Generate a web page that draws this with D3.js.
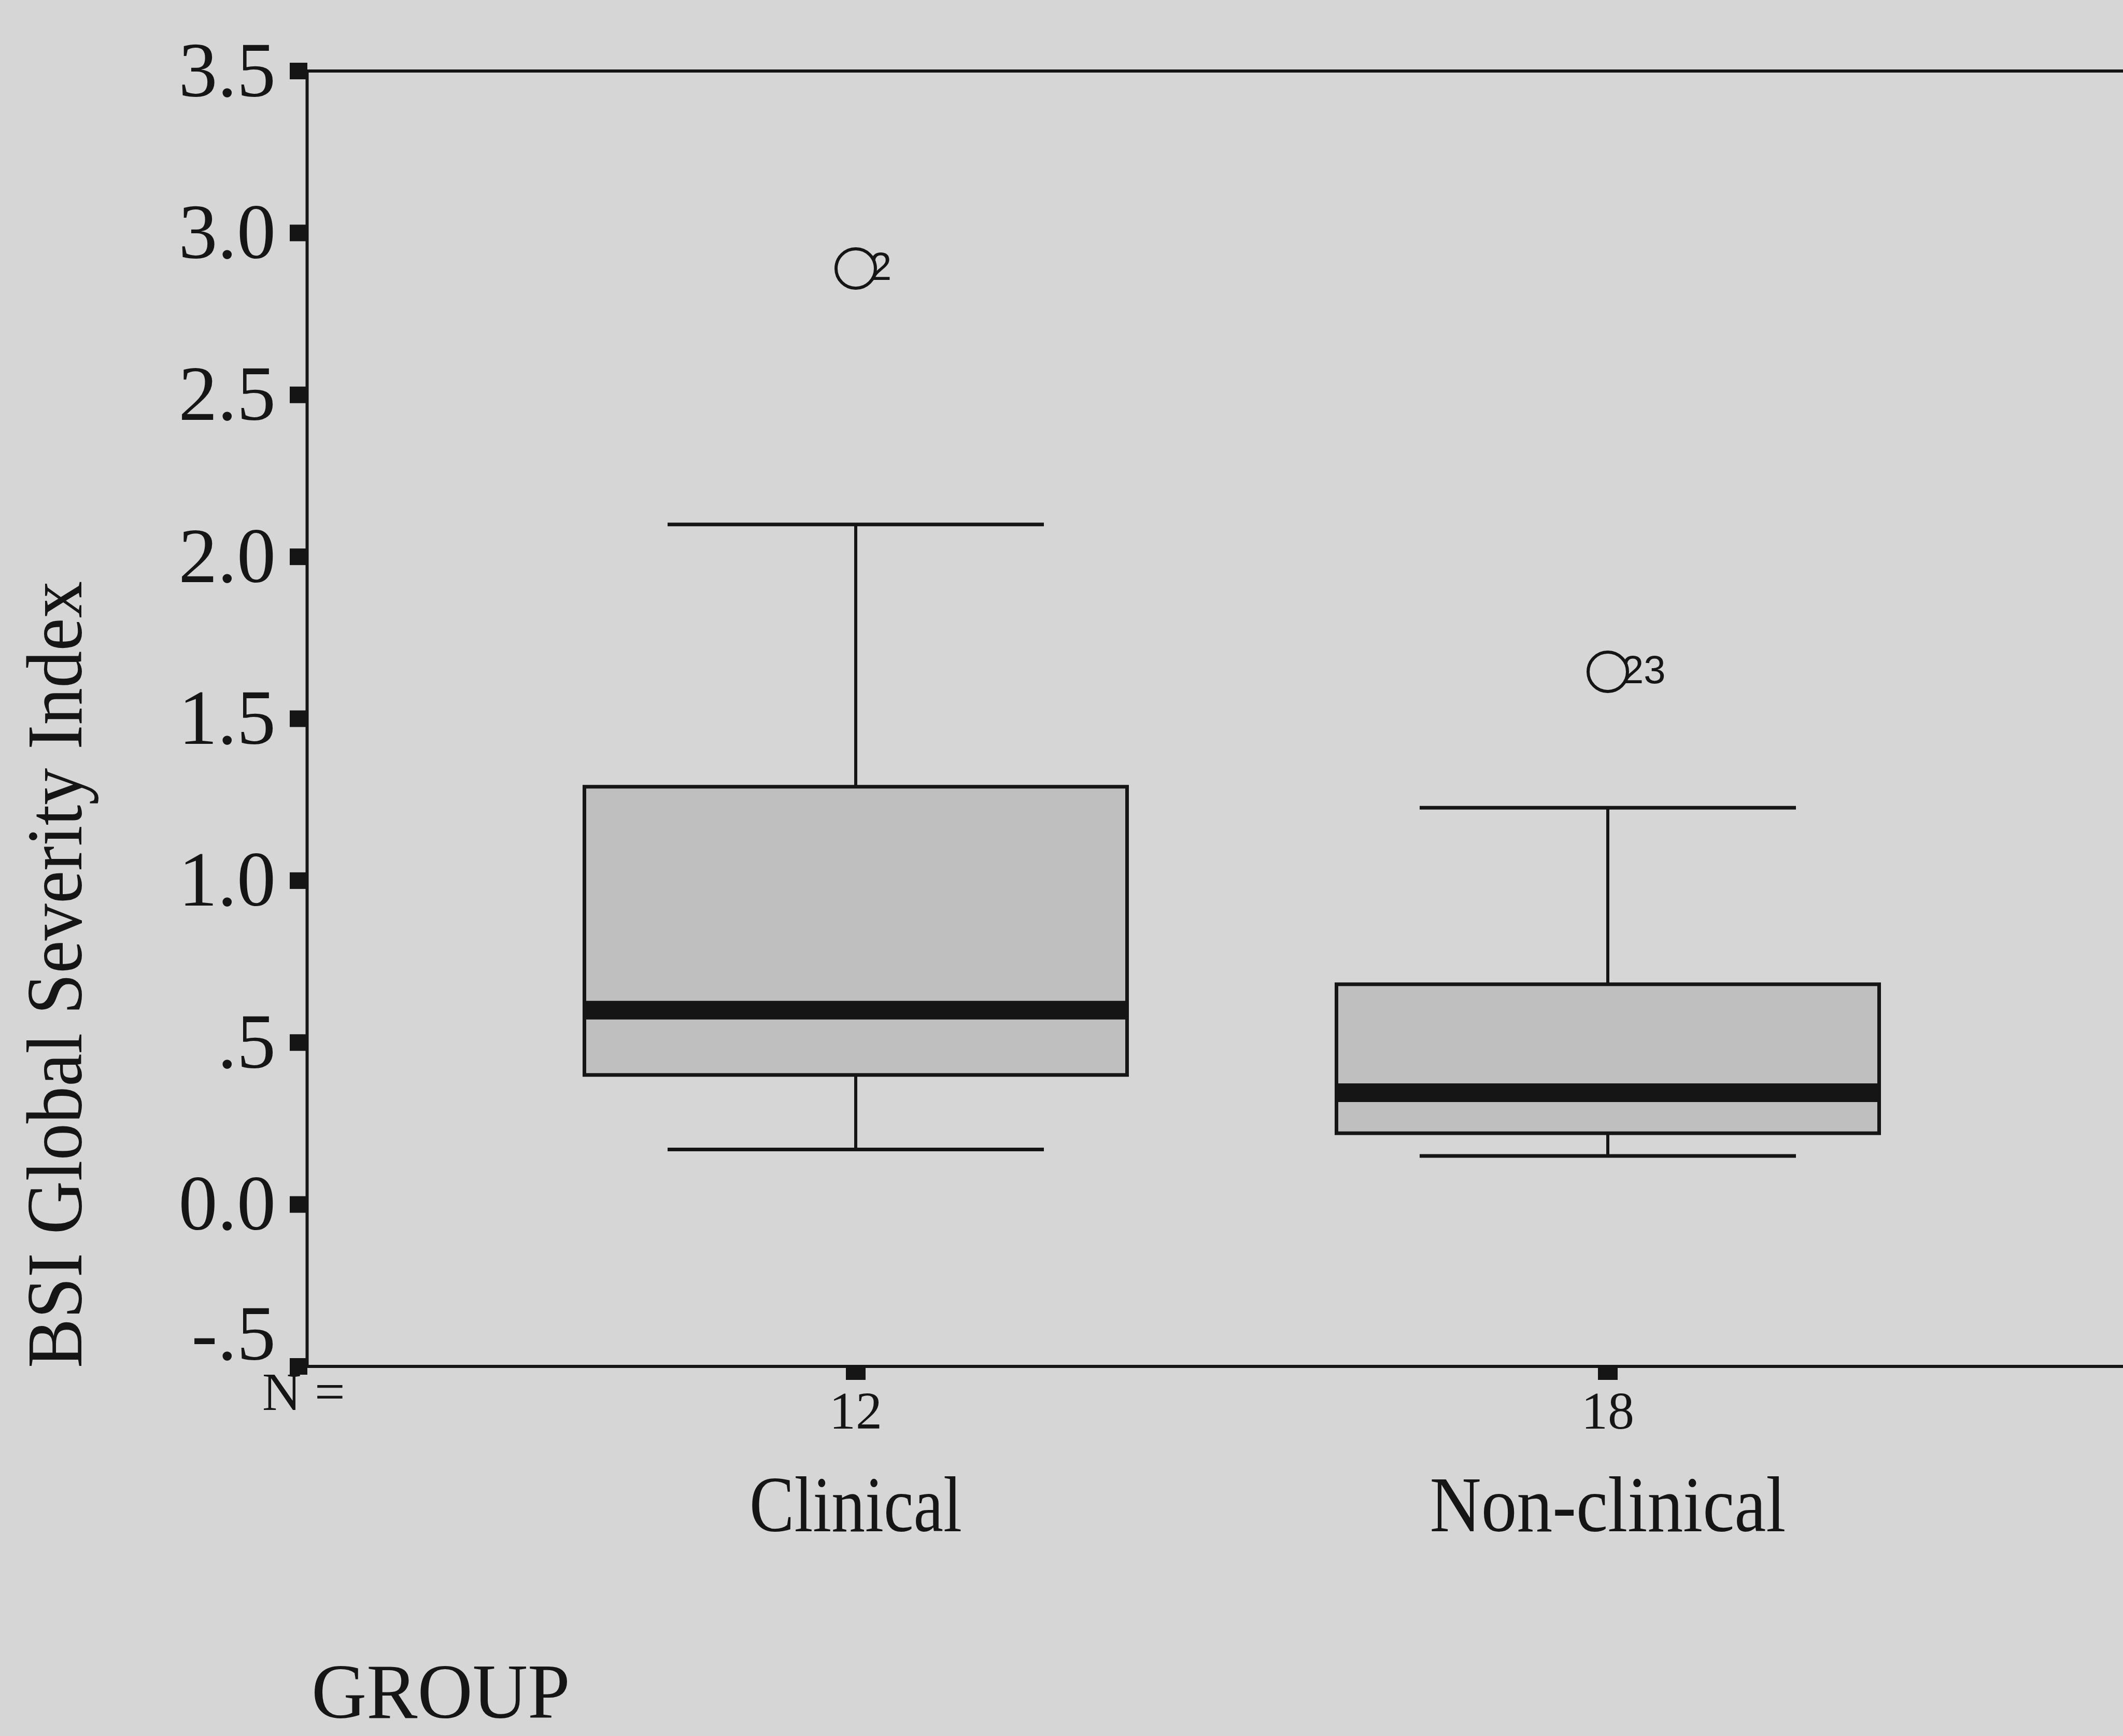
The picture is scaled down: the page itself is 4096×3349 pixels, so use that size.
<!DOCTYPE html>
<html>
<head>
<meta charset="utf-8">
<script src="https://cdn.jsdelivr.net/npm/d3@7"></script>
<style>
  html, body { margin: 0; padding: 0; background: #d5d5d5; }
  svg { display: block; }
  text { font-family: "Liberation Serif", "Times New Roman", serif; fill: #151515; }
</style>
</head>
<body>
<div id="chart"></div>
<script>
// data
var groups = ["Clinical", "Non-clinical"];
var counts = [12, 18];
var lowWhisker = [0.17, 0.15];
var q1 = [0.40, 0.22];
var medians = [0.60, 0.345];
var q3 = [1.29, 0.68];
var highWhisker = [2.10, 1.225];
var outlierValues = [2.89, 1.645];
var outlierIds = ["2", "23"];
var yTicks = [-0.5, 0, 0.5, 1.0, 1.5, 2.0, 2.5, 3.0, 3.5];
var yTickLabels = ["-.5", "0.0", ".5", "1.0", "1.5", "2.0", "2.5", "3.0", "3.5"];

var width = 4096, height = 3349;
var axisX = 592;
var ink = "#151515";

var svg = d3.select("#chart").append("svg")
    .attr("width", width)
    .attr("height", height);

svg.append("rect").attr("width", width).attr("height", height).attr("fill", "#d6d6d6");

var y = d3.scaleLinear().domain([-0.5, 3.5]).range([2636, 137]);
var x = d3.scalePoint().domain(groups).range([1651, 3102]);

var boxW = 1047, capW = 726;

// frame: top and bottom lines run off to the right edge
svg.append("line").attr("x1", axisX).attr("x2", width).attr("y1", y(3.5)).attr("y2", y(3.5))
    .attr("stroke", ink).attr("stroke-width", 6);
svg.append("line").attr("x1", axisX).attr("x2", width).attr("y1", y(-0.5)).attr("y2", y(-0.5))
    .attr("stroke", ink).attr("stroke-width", 6);

// y axis
var yAxis = d3.axisLeft(y)
    .tickValues(yTicks)
    .tickSize(0)
    .tickPadding(60)
    .tickFormat(function(d, i) { return yTickLabels[i]; });

var gy = svg.append("g").attr("transform", "translate(" + axisX + ",0)").call(yAxis);
gy.select(".domain").attr("stroke", ink).attr("stroke-width", 6);
gy.selectAll(".tick text")
    .attr("font-family", "Liberation Serif")
    .attr("font-size", 150)
    .attr("fill", ink);
// the lowest label sits a little above its tick, clear of the N row
gy.selectAll(".tick").filter(function(d) { return d === -0.5; })
    .select("text").attr("y", -62);

// square tick marks
svg.selectAll(".ysq").data(yTicks).enter().append("rect")
    .attr("class", "ysq")
    .attr("x", axisX - 33)
    .attr("y", function(d) { return y(d) - 16; })
    .attr("width", 34).attr("height", 32)
    .attr("fill", ink);

svg.selectAll(".xsq").data(groups).enter().append("rect")
    .attr("class", "xsq")
    .attr("x", function(d) { return x(d) - 19; })
    .attr("y", y(-0.5))
    .attr("width", 38).attr("height", 26)
    .attr("fill", ink);

// boxes
var boxes = svg.selectAll(".box").data(groups).enter().append("g").attr("class", "box");

boxes.append("line")
    .attr("x1", function(d) { return x(d); }).attr("x2", function(d) { return x(d); })
    .attr("y1", function(d, i) { return y(highWhisker[i]); })
    .attr("y2", function(d, i) { return y(lowWhisker[i]); })
    .attr("stroke", ink).attr("stroke-width", 6);

boxes.append("line")
    .attr("x1", function(d) { return x(d) - capW / 2; }).attr("x2", function(d) { return x(d) + capW / 2; })
    .attr("y1", function(d, i) { return y(highWhisker[i]); })
    .attr("y2", function(d, i) { return y(highWhisker[i]); })
    .attr("stroke", ink).attr("stroke-width", 7);

boxes.append("line")
    .attr("x1", function(d) { return x(d) - capW / 2; }).attr("x2", function(d) { return x(d) + capW / 2; })
    .attr("y1", function(d, i) { return y(lowWhisker[i]); })
    .attr("y2", function(d, i) { return y(lowWhisker[i]); })
    .attr("stroke", ink).attr("stroke-width", 7);

boxes.append("rect")
    .attr("x", function(d) { return x(d) - boxW / 2; })
    .attr("y", function(d, i) { return y(q3[i]); })
    .attr("width", boxW)
    .attr("height", function(d, i) { return y(q1[i]) - y(q3[i]); })
    .attr("fill", "#bfbfbf")
    .attr("stroke", ink).attr("stroke-width", 7);

boxes.append("line")
    .attr("x1", function(d) { return x(d) - boxW / 2; }).attr("x2", function(d) { return x(d) + boxW / 2; })
    .attr("y1", function(d, i) { return y(medians[i]); })
    .attr("y2", function(d, i) { return y(medians[i]); })
    .attr("stroke", ink).attr("stroke-width", 36);

// outliers
boxes.append("circle")
    .attr("cx", function(d) { return x(d); })
    .attr("cy", function(d, i) { return y(outlierValues[i]); })
    .attr("r", 38)
    .attr("fill", "none")
    .attr("stroke", ink).attr("stroke-width", 6);

boxes.append("text")
    .attr("x", function(d) { return x(d) + 27; })
    .attr("y", function(d, i) { return y(outlierValues[i]) + 22; })
    .style("font-family", "'Liberation Sans', Arial, sans-serif")
    .attr("font-size", 76)
    .text(function(d, i) { return outlierIds[i]; });

// N row
svg.append("text").attr("x", 506).attr("y", 2720).attr("font-size", 104).text("N =");
svg.selectAll(".ncount").data(counts).enter().append("text")
    .attr("class", "ncount")
    .attr("x", function(d, i) { return x(groups[i]); })
    .attr("y", 2756)
    .attr("text-anchor", "middle")
    .attr("font-size", 102)
    .text(function(d) { return d; });

// category labels
var catLen = [410, 687];
svg.selectAll(".cat").data(groups).enter().append("text")
    .attr("class", "cat")
    .attr("x", function(d) { return x(d); })
    .attr("y", 2954)
    .attr("text-anchor", "middle")
    .attr("font-size", 152)
    .attr("textLength", function(d, i) { return catLen[i]; })
    .attr("lengthAdjust", "spacingAndGlyphs")
    .text(function(d) { return d; });

// axis titles
svg.append("text")
    .attr("transform", "translate(157,1880) rotate(-90)")
    .attr("text-anchor", "middle")
    .attr("font-size", 152)
    .attr("textLength", 1518)
    .attr("lengthAdjust", "spacingAndGlyphs")
    .text("BSI Global Severity Index");

svg.append("text")
    .attr("x", 601).attr("y", 3314)
    .attr("font-size", 150)
    .attr("textLength", 499)
    .attr("lengthAdjust", "spacingAndGlyphs")
    .text("GROUP");
</script>
</body>
</html>
